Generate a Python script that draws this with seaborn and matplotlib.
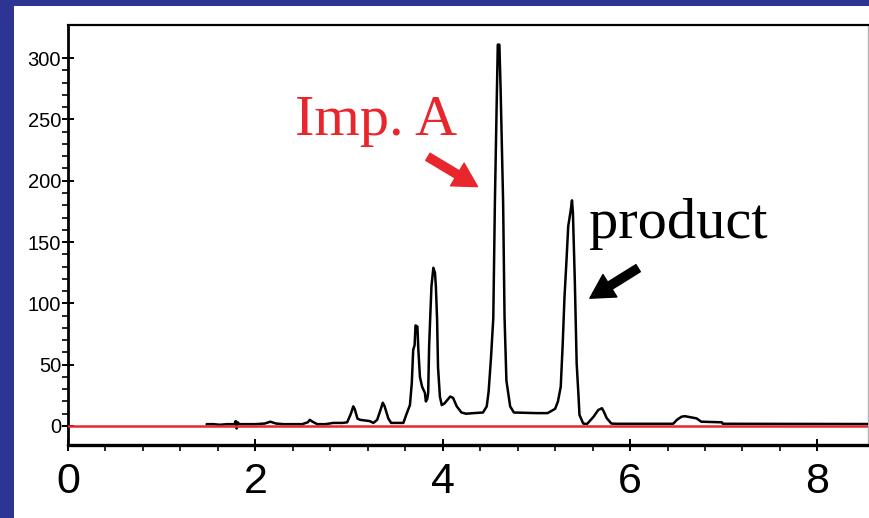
import matplotlib
matplotlib.use("Agg")
import matplotlib.pyplot as plt
from matplotlib.patches import Rectangle, FancyArrowPatch
from matplotlib.ticker import FixedLocator
import numpy as np
import pandas as pd
import seaborn as sns

# Retention time (min) and detector response of the chromatogram trace
time_min = [1.48, 1.55, 1.62, 1.70, 1.78, 1.79, 1.80, 1.81, 1.83, 1.90, 2.00,
            2.10, 2.16, 2.22, 2.30, 2.40, 2.50, 2.56, 2.58, 2.61, 2.66, 2.75,
            2.83, 2.93, 2.98, 3.02, 3.045, 3.06, 3.09, 3.12, 3.17, 3.22, 3.26,
            3.30, 3.34, 3.36, 3.38, 3.42, 3.45, 3.58, 3.61, 3.65, 3.67, 3.685,
            3.70, 3.71, 3.73, 3.74, 3.757, 3.78, 3.81, 3.82, 3.835, 3.845,
            3.855, 3.87, 3.88, 3.90, 3.917, 3.927, 3.94, 3.95, 3.97, 3.99,
            4.02, 4.08, 4.11, 4.15, 4.20, 4.25, 4.33, 4.43, 4.47, 4.49, 4.515,
            4.54, 4.557, 4.575, 4.588, 4.605, 4.618, 4.645, 4.66, 4.68, 4.72,
            4.76, 5.00, 5.12, 5.20, 5.23, 5.26, 5.28, 5.30, 5.32, 5.34, 5.365,
            5.38, 5.39, 5.41, 5.43, 5.45, 5.46, 5.50, 5.54, 5.61, 5.66, 5.70,
            5.72, 5.75, 5.80, 5.855, 6.46, 6.50, 6.55, 6.585, 6.71, 6.76, 6.98,
            6.99, 8.60]
response = [1.5, 1.5, 1.0, 1.5, 1.5, 4.0, -2.0, 3.0, 1.5, 1.5, 1.5,
            2.0, 3.5, 2.0, 1.5, 1.5, 1.5, 3.0, 5.0, 3.5, 1.5, 1.5,
            2.5, 2.5, 3.0, 10.0, 16.0, 14.0, 6.0, 5.0, 4.5, 4.0, 2.5,
            5.0, 14.0, 19.0, 16.0, 6.0, 2.5, 2.5, 9.0, 17.0, 35.0, 62.0,
            66.0, 82.0, 81.0, 62.0, 40.0, 32.0, 27.0, 20.0, 22.0, 27.0,
            65.0, 95.0, 114.0, 129.0, 125.0, 114.0, 87.0, 48.0, 24.0, 17.0,
            18.5, 24.0, 23.0, 16.0, 11.0, 10.0, 10.5, 11.0, 16.0, 28.0, 55.0,
            88.0, 182.0, 258.0, 311.0, 311.0, 275.0, 182.0, 89.0, 37.0, 16.0,
            11.0, 10.5, 10.5, 14.0, 20.0, 32.0, 65.0, 105.0, 133.0, 163.0, 175.0,
            184.0, 174.0, 119.0, 51.0, 24.0, 9.0, 2.0, 1.6, 7.5, 13.0, 14.5,
            11.7, 6.5, 2.0, 1.8, 1.8, 5.0, 7.6, 8.0, 6.2, 3.5, 3.0,
            1.8, 1.6]

x_major = [0, 2, 4, 6, 8]
y_major = [0, 50, 100, 150, 200, 250, 300]
peak_labels = ["Imp. A", "product"]

NAVY = "#2d3494"
RED = "#e8262b"

sns.set_theme(style="white")
plt.rcParams["font.family"] = ["Liberation Sans", "DejaVu Sans"]

fig = plt.figure(figsize=(8.69, 5.18), dpi=100, facecolor=NAVY)
# white slide panel inside the navy frame
fig.patches.append(Rectangle((14 / 869, 0), 1, (518 - 6) / 518,
                             transform=fig.transFigure, facecolor="white",
                             edgecolor="none", zorder=-10))

ax = fig.add_axes([68 / 869, 1 - 445 / 518, 800 / 869, 420 / 518])
ax.set_facecolor("white")

df = pd.DataFrame({"time": time_min, "signal": response})
sns.lineplot(data=df, x="time", y="signal", ax=ax, color="black",
             linewidth=1.8, sort=False, estimator=None, zorder=3)
ax.axhline(0, color=RED, linewidth=1.8, zorder=4)

ax.set_xlim(0, 8.54)
ax.set_ylim(-15.5, 327)
ax.set_xlabel("")
ax.set_ylabel("")

ax.xaxis.set_major_locator(FixedLocator(x_major))
ax.xaxis.set_minor_locator(FixedLocator(
    [v for v in np.arange(0, 8.01, 0.4) if min(abs(v - m) for m in x_major) > 1e-6]))
ax.yaxis.set_major_locator(FixedLocator(y_major))
ax.yaxis.set_minor_locator(FixedLocator(
    [v for v in range(0, 301, 10) if v % 50 != 0]))
ax.set_xticklabels([str(v) for v in x_major])
ax.set_yticklabels([str(v) for v in y_major])

ax.tick_params(axis="x", which="major", direction="inout", length=9, width=1.4,
               labelsize=31, pad=8, colors="black", bottom=True)
ax.tick_params(axis="x", which="minor", direction="out", length=4.5, width=1.4,
               bottom=True)
ax.tick_params(axis="y", which="major", direction="inout", length=9, width=1.4,
               labelsize=14.5, pad=0.5, colors="black", left=True)
ax.tick_params(axis="y", which="minor", direction="out", length=4.5, width=1.4,
               left=True)

for side in ("left", "bottom", "top"):
    ax.spines[side].set_color("black")
ax.spines["left"].set_linewidth(2.0)
ax.spines["bottom"].set_linewidth(2.4)
ax.spines["top"].set_linewidth(1.6)
ax.spines["right"].set_color("#b0b0b0")
ax.spines["right"].set_linewidth(1.0)

serif = ["Liberation Serif", "DejaVu Serif"]
ax.text(2.42, 237, peak_labels[0], color=RED, fontsize=42, family=serif,
        ha="left", va="baseline", zorder=5)
ax.text(5.56, 153, peak_labels[1], color="black", fontsize=42, family=serif,
        ha="left", va="baseline", zorder=5)

style = "simple,head_width=19,head_length=17,tail_width=6"
ax.add_patch(FancyArrowPatch((3.842, 219.5), (4.372, 195.2), arrowstyle=style,
                             mutation_scale=1, color=RED, shrinkA=0, shrinkB=0,
                             zorder=5))
ax.add_patch(FancyArrowPatch((6.086, 128.7), (5.571, 104.2), arrowstyle=style,
                             mutation_scale=1, color="black", shrinkA=0,
                             shrinkB=0, zorder=5))

fig.savefig("out.png", dpi=100, facecolor=NAVY)
